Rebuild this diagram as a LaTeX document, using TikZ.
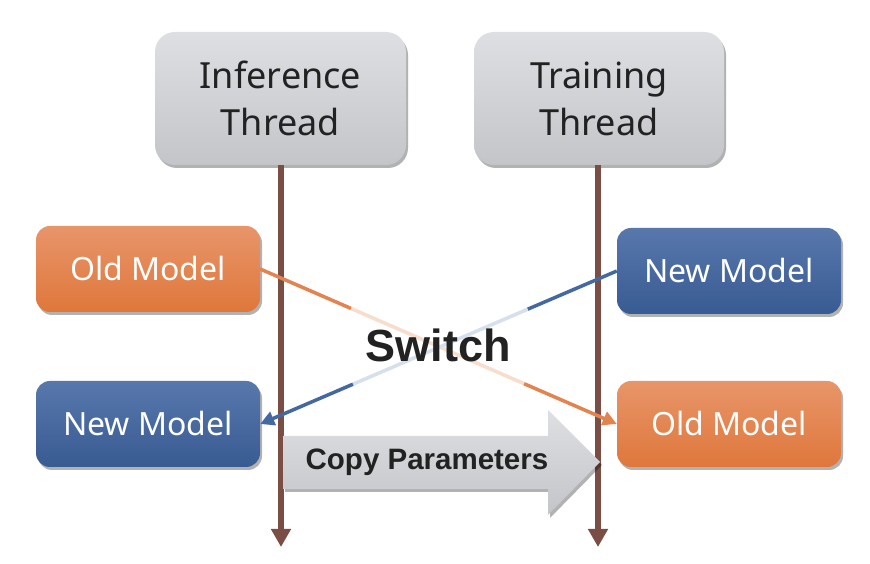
\documentclass[tikz,border=0pt]{standalone}
\usepackage{fontspec}
\setmainfont{Noto Sans}
\newfontfamily\boldsans{Liberation Sans}
\usetikzlibrary{shadows,calc,arrows.meta}
\definecolor{thrtop}{HTML}{DEDFE2}
\definecolor{thrbot}{HTML}{C3C5C9}
\definecolor{ortop}{HTML}{E8956A}
\definecolor{orbot}{HTML}{DF773B}
\definecolor{bltop}{HTML}{5878AC}
\definecolor{blbot}{HTML}{385B93}
\definecolor{orline}{HTML}{E3834F}
\definecolor{orlight}{HTML}{F8DDCD}
\definecolor{blline}{HTML}{4468A2}
\definecolor{bllight}{HTML}{D6E0EC}
\definecolor{brownline}{HTML}{7A4E44}
\definecolor{txtdark}{HTML}{222222}
\tikzset{
  boxshadow/.style={drop shadow={shadow xshift=2pt,shadow yshift=-3pt,opacity=0.3,fill=black}},
  threadbox/.style={rounded corners=20pt,minimum width=251pt,minimum height=133pt,
    top color=thrtop,bottom color=thrbot,boxshadow,align=center,
    font=\fontsize{36}{47}\selectfont,text=txtdark,inner sep=0pt},
  oldbox/.style={rounded corners=14pt,minimum width=224pt,minimum height=86pt,
    top color=ortop,bottom color=orbot,boxshadow,
    font=\fontsize{32}{38}\selectfont,text=white,inner sep=0pt},
  newbox/.style={oldbox,top color=bltop,bottom color=blbot},
  timeline/.style={line width=6.5pt,draw=brownline,-{Triangle[length=18pt,width=19pt]}},
  orconn/.style={line width=3.5pt,draw=orline},
  blconn/.style={line width=3.5pt,draw=blline},
}
\begin{document}
\begin{tikzpicture}[x=1pt,y=1pt]
\useasboundingbox (0,0) rectangle (870,564);
\fill[white] (0,0) rectangle (870,564);
% thread boxes
\node[threadbox] (inf) at (280.5,465.5) {Inference\\Thread};
\node[threadbox,minimum width=250pt] (tra) at (599,465.5) {Training\\Thread};
\coordinate (infend) at (281,17);
\coordinate (traend) at (598,17);
\draw[timeline] (inf.south -| infend) -- (infend);
\draw[timeline] (tra.south -| traend) -- (traend);
% model boxes
\node[oldbox] (oldl) at (148,295) {Old Model};
\node[newbox] (newr) at (729,293) {New Model};
\node[newbox] (newl) at (148,140) {New Model};
\node[oldbox] (oldr) at (729,140) {Old Model};
% switch connectors
\coordinate (oa) at ($(oldl.east)!0.255!(oldr.west)$);
\coordinate (ob) at ($(oldl.east)!0.74!(oldr.west)$);
\coordinate (ba) at ($(newr.west)!0.25!(newl.east)$);
\coordinate (bb) at ($(newr.west)!0.74!(newl.east)$);
\draw[orconn] (oldl.east) -- (oa);
\draw[orconn,draw=orlight] (oa) -- (ob);
\draw[blconn] (newr.west) -- (ba);
\draw[blconn,draw=bllight] (ba) -- (bb);
\draw[orconn,-{Triangle[length=14pt,width=14pt]}] (ob) -- (oldr.west);
\draw[blconn,-{Triangle[length=14pt,width=14pt]}] (bb) -- (newl.east);
\node[font=\fontsize{45}{50}\boldsans\bfseries,text=txtdark] (sw) at (438,219) {Switch};
% copy parameters arrow
\path[top color=thrtop,bottom color=thrbot,boxshadow]
  (283,128) -- (548,128) -- (548,154) -- (600,102) -- (548,49) -- (548,75) -- (283,75) -- cycle;
\node[font=\fontsize{29.5}{34}\boldsans\bfseries,text=txtdark] (copy) at (427,102) {Copy Parameters};
\end{tikzpicture}
\end{document}
